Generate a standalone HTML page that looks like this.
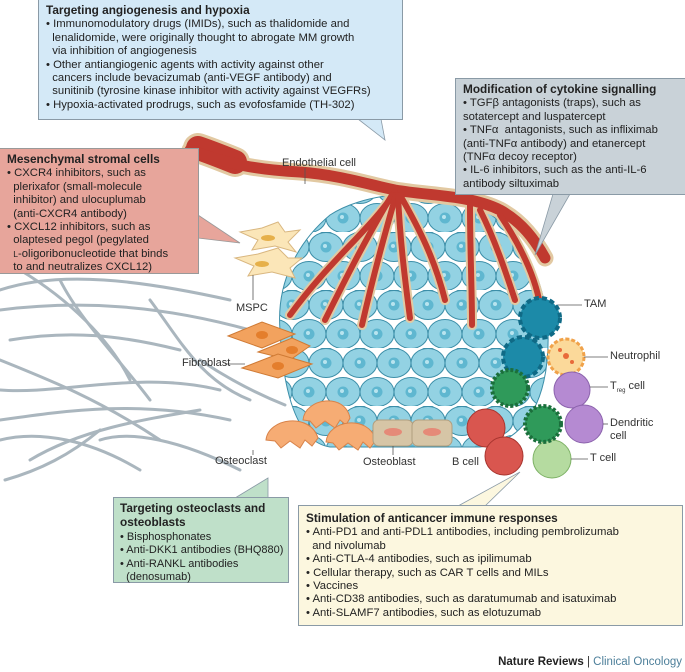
<!DOCTYPE html>
<html><head><meta charset="utf-8"><style>
body{margin:0;width:685px;height:672px;background:#fff;position:relative;overflow:hidden;font-family:"Liberation Sans",sans-serif;}
.box{position:absolute;font-size:11.3px;line-height:13.4px;color:#222;white-space:nowrap;box-sizing:border-box;padding:4px 0 0 7px;}
.box b{font-size:11.8px;}
.lbl{position:absolute;font-size:11px;color:#333;white-space:nowrap;}
svg{position:absolute;left:0;top:0;}
</style></head><body>
<svg width="685" height="672" viewBox="0 0 685 672">
<defs>
<pattern id="cells" width="34" height="58" patternUnits="userSpaceOnUse" x="3" y="0">
<g stroke="#3c8ea8" stroke-width="1" fill="#93d2e3">
<ellipse cx="17" cy="15" rx="17" ry="14.5"/><ellipse cx="0" cy="44" rx="17" ry="14.5"/><ellipse cx="34" cy="44" rx="17" ry="14.5"/>
<ellipse cx="17" cy="73" rx="17" ry="14.5"/><ellipse cx="17" cy="-14" rx="17" ry="14.5"/>
</g>
<g fill="#5fb7d0"><circle cx="17" cy="15" r="5.5"/><circle cx="0" cy="44" r="5.5"/><circle cx="34" cy="44" r="5.5"/></g>
<g fill="#b8e4ef"><circle cx="16" cy="14" r="2"/><circle cx="-1" cy="43" r="2"/><circle cx="33" cy="43" r="2"/></g>
</pattern>
<clipPath id="mc"><path d="M280,330 C276,280 300,240 330,215 C362,194 420,188 462,200 C512,216 545,270 548,330 C550,392 530,442 480,447 L330,447 C296,442 283,390 280,330 Z"/></clipPath>
</defs>
<g fill="none" stroke="#aab6be" stroke-width="3" stroke-linecap="round">
<path d="M0,290 C60,270 140,280 230,300"/>
<path d="M0,310 C80,300 160,305 250,330"/>
<path d="M10,340 C70,330 120,335 180,350"/>
<path d="M0,360 C50,380 100,400 160,440"/>
<path d="M0,390 C60,395 140,370 220,390"/>
<path d="M0,420 C70,410 140,400 230,420"/>
<path d="M30,460 C80,430 140,420 200,410"/>
<path d="M60,280 C80,320 120,360 150,400"/>
<path d="M20,270 C70,300 110,340 130,380"/>
<path d="M0,440 C40,430 90,440 140,470"/>
<path d="M150,300 C180,340 200,380 250,400"/>
<path d="M100,440 C130,430 180,440 240,470"/>
<path d="M5,480 C40,470 70,455 100,430"/>
<path d="M200,360 C230,380 260,395 285,405"/>
</g>
<rect x="270" y="180" width="290" height="280" fill="url(#cells)" clip-path="url(#mc)"/>
<path d="M280,330 C276,280 300,240 330,215 C362,194 420,188 462,200 C512,216 545,270 548,330 C550,392 530,442 480,447 L330,447 C296,442 283,390 280,330 Z" fill="none" stroke="#3c8ea8" stroke-width="1"/>
<g fill="none" stroke-linecap="round">
<g stroke="#e2c9a2" stroke-width="10">
<path d="M395,192 C370,230 330,260 290,315"/>
<path d="M392,195 C365,240 345,280 325,320"/>
<path d="M396,195 C380,250 370,290 362,325"/>
<path d="M398,195 C400,240 405,280 410,318"/>
<path d="M400,195 C420,230 435,260 445,300"/>
<path d="M470,205 C470,250 472,290 472,325"/>
<path d="M480,210 C495,240 505,270 515,300"/>
<path d="M500,215 C520,245 535,275 540,305"/>
</g>
<path d="M190,150 C230,165 260,170 300,172 C340,175 370,185 395,190 C430,196 470,195 500,210 C522,222 535,240 545,258" stroke="#e2c9a2" stroke-width="17"/>
<path d="M198,148 C210,152 220,156 235,162" stroke="#e2c9a2" stroke-width="30"/>
<path d="M198,148 C210,152 220,156 235,162" stroke="#c0392f" stroke-width="24"/>
<path d="M190,150 C230,165 260,170 300,172 C340,175 370,185 395,190 C430,196 470,195 500,210 C522,222 535,240 545,258" stroke="#c0392f" stroke-width="11"/>
<g stroke="#c0392f" stroke-width="6">
<path d="M395,192 C370,230 330,260 290,315"/>
<path d="M392,195 C365,240 345,280 325,320"/>
<path d="M396,195 C380,250 370,290 362,325"/>
<path d="M398,195 C400,240 405,280 410,318"/>
<path d="M400,195 C420,230 435,260 445,300"/>
<path d="M470,205 C470,250 472,290 472,325"/>
<path d="M480,210 C495,240 505,270 515,300"/>
<path d="M500,215 C520,245 535,275 540,305"/>
</g>
</g>
<g fill="#fbe6b8" stroke="#d9b780" stroke-width="1">
<path d="M240,232 L262,228 L278,222 L285,232 L300,230 L288,242 L296,252 L275,246 L252,250 L258,240 Z"/>
<path d="M235,258 L258,254 L278,248 L288,258 L302,258 L290,268 L295,278 L272,272 L248,276 L254,266 Z"/>
</g>
<ellipse cx="268" cy="238" rx="7" ry="3" fill="#e6b04a"/><ellipse cx="262" cy="264" rx="7" ry="3" fill="#e6b04a"/>
<g fill="#f2a25e" stroke="#cf7a34">
<path d="M228,336 L262,322 L295,334 L262,348 Z"/>
<path d="M258,352 L292,338 L310,346 L290,360 Z"/>
<path d="M242,368 L278,354 L312,364 L278,378 Z"/>
</g>
<g fill="#e47e2c"><ellipse cx="262" cy="335" rx="6" ry="4"/><ellipse cx="292" cy="350" rx="6" ry="4"/><ellipse cx="278" cy="366" rx="6" ry="4"/></g>
<g fill="#f6ac74" stroke="#d8834a">
<path d="M303,420 C305,398 345,392 350,418 L346,425 L340,420 L335,428 L325,421 L316,428 L310,421 Z"/>
<path d="M266,440 C268,418 310,412 318,438 L312,446 L305,440 L300,448 L290,441 L281,448 L275,441 Z"/>
<path d="M326,442 C328,420 368,414 376,440 L370,448 L363,442 L358,450 L348,443 L339,450 L333,443 Z"/>
</g>
<g fill="#d6c5a6" stroke="#b09e7f"><rect x="373" y="420" width="40" height="26" rx="6"/><rect x="412" y="420" width="40" height="26" rx="6"/></g>
<g fill="#e58a78"><ellipse cx="393" cy="432" rx="9" ry="4"/><ellipse cx="432" cy="432" rx="9" ry="4"/></g>
<g stroke-width="1">
<circle cx="540" cy="318" r="20" fill="#1c8aa8" stroke="#0f6a86" stroke-dasharray="5 3" stroke-width="4"/>
<circle cx="523" cy="357" r="20" fill="#1c8aa8" stroke="#0f6a86" stroke-dasharray="5 3" stroke-width="4"/>
<circle cx="566" cy="357" r="18" fill="#fbd99a" stroke="#f0a24a" stroke-dasharray="4 2" stroke-width="3"/>
<circle cx="572" cy="390" r="18" fill="#b58ad2" stroke="#8c63ad"/>
<circle cx="584" cy="424" r="19" fill="#b58ad2" stroke="#8c63ad"/>
<circle cx="486" cy="428" r="19" fill="#d9564f" stroke="#a8352f"/>
<circle cx="504" cy="456" r="19" fill="#d9564f" stroke="#a8352f"/>
<circle cx="552" cy="459" r="19" fill="#b5dba0" stroke="#7eb266"/>
<circle cx="510" cy="388" r="18" fill="#2f9a5a" stroke="#1b6f3c" stroke-dasharray="3 2" stroke-width="4"/>
<circle cx="543" cy="424" r="18" fill="#2f9a5a" stroke="#1b6f3c" stroke-dasharray="3 2" stroke-width="4"/>
</g>
<g fill="#e86a3a"><circle cx="560" cy="350" r="2"/><circle cx="572" cy="362" r="2"/><circle cx="566" cy="356" r="3"/></g>
<g stroke="#555" stroke-width="0.8" fill="none">
<path d="M305,168 L305,184"/><path d="M558,305 L582,305"/><path d="M584,357 L608,357"/>
<path d="M590,387 L608,387"/><path d="M603,424 L608,424"/><path d="M571,459 L588,459"/>
<path d="M393,446 L393,455"/><path d="M253,450 L253,455"/><path d="M225,364 L245,364"/><path d="M253,275 L253,300"/>
</g>
<path d="M358,119 L385,140 L381,119 Z" fill="#d4e9f7" stroke="#8a9aa6" stroke-width="0.8"/>
<path d="M198,215 L240,243 L198,238 Z" fill="#e7a59b" stroke="#999" stroke-width="0.8"/>
<path d="M553,194 L535,255 L570,194 Z" fill="#c9d2d8" stroke="#8a9aa6" stroke-width="0.8"/>
<path d="M235,498 L268,478 L268,498 Z" fill="#bfe0c9" stroke="#8a9aa6" stroke-width="0.8"/>
<path d="M458,506 L520,472 L485,506 Z" fill="#fcf7df" stroke="#8a9aa6" stroke-width="0.8"/>
</svg>

<div class="box" style="left:38px;top:0;width:365px;height:120px;background:#d4e9f7;border:1px solid #8a9aa6;border-top:none;"><b>Targeting angiogenesis and hypoxia</b><br>• Immunomodulatory drugs (IMIDs), such as thalidomide and<br>&nbsp;&nbsp;lenalidomide, were originally thought to abrogate MM growth<br>&nbsp;&nbsp;via inhibition of angiogenesis<br>• Other antiangiogenic agents with activity against other<br>&nbsp;&nbsp;cancers include bevacizumab (anti-VEGF antibody) and<br>&nbsp;&nbsp;sunitinib (tyrosine kinase inhibitor with activity against VEGFRs)<br>• Hypoxia-activated prodrugs, such as evofosfamide (TH-302)</div>

<div class="box" style="left:0;top:148px;width:199px;height:126px;background:#e7a59b;border:1px solid #999;border-left:none;"><b>Mesenchymal stromal cells</b><br>• CXCR4 inhibitors, such as<br>&nbsp;&nbsp;plerixafor (small-molecule<br>&nbsp;&nbsp;inhibitor) and ulocuplumab<br>&nbsp;&nbsp;(anti-CXCR4 antibody)<br>• CXCL12 inhibitors, such as<br>&nbsp;&nbsp;olaptesed pegol (pegylated<br>&nbsp;&nbsp;<span style="font-size:8.5px">L</span>-oligoribonucleotide that binds<br>&nbsp;&nbsp;to and neutralizes CXCL12)</div>

<div class="box" style="left:455px;top:78px;width:230px;height:117px;background:#c9d2d8;border:1px solid #8a9aa6;border-right:none;"><b>Modification of cytokine signalling</b><br>• TGFβ antagonists (traps), such as<br>sotatercept and luspatercept<br>• TNFα&nbsp; antagonists, such as infliximab<br>(anti-TNFα antibody) and etanercept<br>(TNFα decoy receptor)<br>• IL-6 inhibitors, such as the anti-IL-6<br>antibody siltuximab</div>

<div class="box" style="left:113px;top:497px;width:176px;height:86px;background:#bfe0c9;border:1px solid #8a9aa6;font-size:11px;padding-left:6px;"><b>Targeting osteoclasts and<br>osteoblasts</b><br>• Bisphosphonates<br>• Anti-DKK1 antibodies (BHQ880)<br>• Anti-RANKL antibodies<br>&nbsp;&nbsp;(denosumab)</div>

<div class="box" style="left:298px;top:505px;width:385px;height:121px;background:#fcf7df;border:1px solid #8a9aa6;padding-top:6px;"><b>Stimulation of anticancer immune responses</b><br>• Anti-PD1 and anti-PDL1 antibodies, including pembrolizumab<br>&nbsp;&nbsp;and nivolumab<br>• Anti-CTLA-4 antibodies, such as ipilimumab<br>• Cellular therapy, such as CAR T cells and MILs<br>• Vaccines<br>• Anti-CD38 antibodies, such as daratumumab and isatuximab<br>• Anti-SLAMF7 antibodies, such as elotuzumab</div>

<div class="lbl" style="left:282px;top:157px;">Endothelial cell</div>
<div class="lbl" style="left:236px;top:302px;">MSPC</div>
<div class="lbl" style="left:182px;top:357px;">Fibroblast</div>
<div class="lbl" style="left:584px;top:298px;">TAM</div>
<div class="lbl" style="left:610px;top:350px;">Neutrophil</div>
<div class="lbl" style="left:610px;top:380px;">T<sub style="font-size:6px">reg</sub> cell</div>
<div class="lbl" style="left:610px;top:417px;line-height:13px;">Dendritic<br>cell</div>
<div class="lbl" style="left:590px;top:452px;">T cell</div>
<div class="lbl" style="left:452px;top:456px;">B cell</div>
<div class="lbl" style="left:363px;top:456px;">Osteoblast</div>
<div class="lbl" style="left:215px;top:455px;">Osteoclast</div>
<div class="lbl" style="right:3px;top:656px;font-size:11.5px;"><b style="color:#222">Nature Reviews</b> | <span style="color:#4d7f9a">Clinical Oncology</span></div>
</body></html>
